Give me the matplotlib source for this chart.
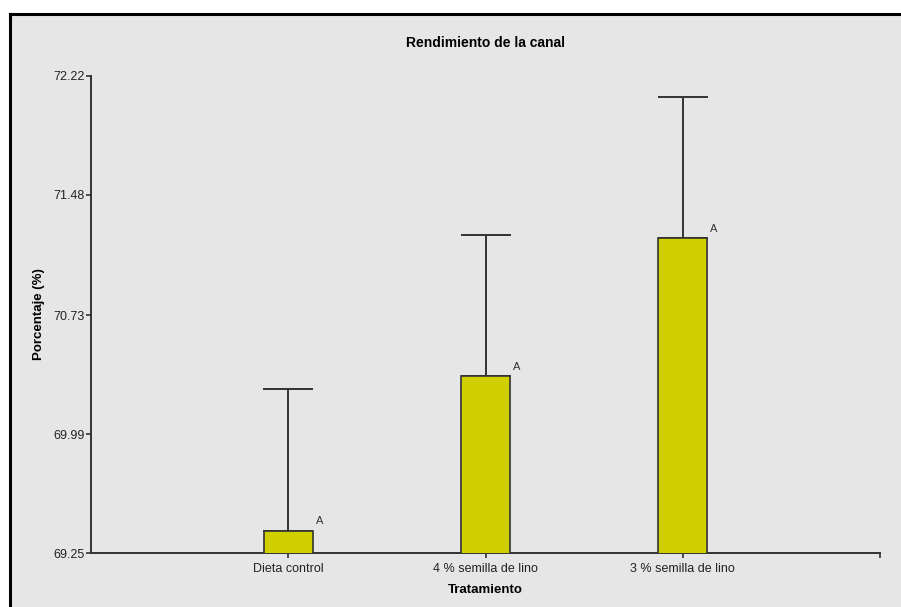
import matplotlib
matplotlib.use("Agg")
import matplotlib.pyplot as plt
from matplotlib.patches import Rectangle
from matplotlib.lines import Line2D
import numpy as np

# data
tratamientos = ["Dieta control", "4 % semilla de lino", "3 % semilla de lino"]
medias = [69.39, 70.35, 71.21]
error_sup = [0.88, 0.88, 0.88]
letras = ["A", "A", "A"]
y_ticks = [69.25, 69.99, 70.73, 71.48, 72.22]

bg = "#e6e6e6"
bar_color = "#d0d000"
dark = "#333333"

plt.rcParams['font.family'] = ['Liberation Sans', 'DejaVu Sans']

fig = plt.figure(figsize=(9.01, 6.07), dpi=100)
fig.patch.set_facecolor("white")

# grey panel with black frame on left and top
W, H = 901.0, 607.0
fig.patches.append(Rectangle((10 / W, 0), 1 - 10 / W, 1 - 14 / H, transform=fig.transFigure,
                             facecolor=bg, edgecolor="none", zorder=-10))
fig.lines.append(Line2D([10 / W, 10 / W], [0, 1 - 14 / H], transform=fig.transFigure,
                        color="black", lw=2.2, zorder=-5))
fig.lines.append(Line2D([10 / W, 1], [1 - 14 / H, 1 - 14 / H], transform=fig.transFigure,
                        color="black", lw=2.2, zorder=-5))

ax = fig.add_axes([91 / W, 54 / H, (880 - 91) / W, (553 - 76) / H])
ax.set_facecolor(bg)
ax.patch.set_alpha(0)

x = np.arange(len(tratamientos))
ax.bar(x, medias, width=0.25, bottom=0, color=bar_color, edgecolor=dark, linewidth=1.2, zorder=3)
ax.errorbar(x, medias, yerr=[np.zeros(len(medias)), error_sup], fmt="none",
            ecolor=dark, elinewidth=1.4, capsize=18, capthick=1.4, zorder=2)

for xi, m, l in zip(x, medias, letras):
    ax.annotate(l, (xi + 0.125, m), xytext=(2, 3), textcoords="offset points",
                fontsize=8, color=dark, ha="left", va="bottom")

ax.set_xlim(-1, 3)
ax.set_ylim(69.25, 72.22)
ax.set_yticks(y_ticks)
ax.set_yticklabels(["%.2f" % v for v in y_ticks])
ax.set_xticks(x)
ax.set_xticklabels(tratamientos)
ax.set_xticks([3], minor=True)
ax.tick_params(axis="both", which="both", direction="out", length=3.5, width=1.2,
               color=dark, labelsize=9, labelcolor="#222222", pad=1)
ax.tick_params(axis="x", pad=4)

for s in ["top", "right"]:
    ax.spines[s].set_visible(False)
for s in ["left", "bottom"]:
    ax.spines[s].set_color(dark)
    ax.spines[s].set_linewidth(1.4)

ax.set_title("Rendimiento de la canal", fontsize=10, fontweight="bold", pad=21)
ax.set_xlabel("Tratamiento", fontsize=9.5, fontweight="bold", labelpad=6)
ax.set_ylabel("Porcentaje (%)", fontsize=9.5, fontweight="bold", labelpad=6)

fig.savefig("out.png", dpi=100, facecolor=fig.get_facecolor())
